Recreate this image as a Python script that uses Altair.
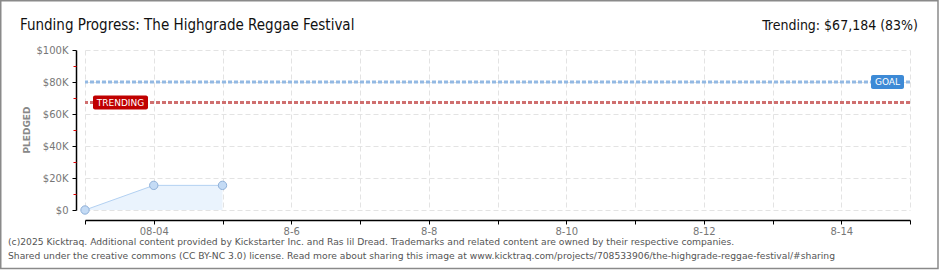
import altair as alt
import pandas as pd

# ---- data ----
dates = ["2025-08-03", "2025-08-04", "2025-08-05"]
pledged = [0, 15400, 15400]
goal = 80000
trending = 67184
y_ticks = [0, 20000, 40000, 60000, 80000, 100000]
y_minor = [10000, 30000, 50000, 70000, 90000]
x_days = list(range(3, 16))
title_text = "Funding Progress: The Highgrade Reggae Festival"
trend_text = "Trending: $67,184 (83%)"
footer_lines = [
    "(c)2025 Kicktraq. Additional content provided by Kickstarter Inc. and Ras lil Dread. Trademarks and related content are owned by their respective companies.",
    "Shared under the creative commons (CC BY-NC 3.0) license. Read more about sharing this image at www.kicktraq.com/projects/708533906/the-highgrade-reggae-festival/#sharing",
]
y_title = "PLEDGED"

W, H = 825, 160
PL, PT, PR, PB = 85, 50, 30, 60

df = pd.DataFrame({"date": dates, "pledged": pledged})
xvals = [int(pd.Timestamp(f"2025-08-{d:02d}", tz="UTC").value // 10**6) for d in x_days]

xscale = alt.Scale(type="utc", domain=[xvals[0], xvals[-1]])
yscale = alt.Scale(domain=[0, 100000], nice=False)

label_expr = ("utcdate(datum.value) == 4 ? '08-04' : "
              "((utcdate(datum.value) % 2 == 0 && utcdate(datum.value) > 4 && utcdate(datum.value) < 15) "
              "? '8-' + utcdate(datum.value) : '')")

xaxis = alt.Axis(values=xvals, labelExpr=label_expr, grid=True, gridColor="#e3e3e3",
                 gridDash=[5, 3], domainColor="#000", domainWidth=1.5, tickColor="#000",
                 tickSize=4, offset=10, labelColor="#777", labelFont="DejaVu Sans",
                 labelFontSize=10, labelPadding=2, labelFlush=False)
X = alt.X("date:T", scale=xscale, axis=xaxis, title=None)

yaxis = alt.Axis(values=y_ticks,
                 labelExpr="datum.value == 0 ? '$0' : '$' + datum.value/1000 + 'K'",
                 grid=True, gridColor="#e3e3e3", gridDash=[5, 3], domainColor="#000",
                 domainWidth=1.5, tickColor="#000", tickSize=4, offset=9,
                 labelColor="#777", labelFont="DejaVu Sans", labelFontSize=10, labelPadding=4)
yminor_axis = alt.Axis(values=y_minor, labels=False, domain=False, grid=False,
                       tickColor="#e00000", tickSize=3, offset=9, orient="left")

base = alt.Chart(df)
area = base.mark_area(color="#eaf3fd", opacity=1).encode(
    x=X, y=alt.Y("pledged:Q", scale=yscale, axis=yaxis, title=None))
minor = base.mark_point(opacity=0).encode(
    x=X, y=alt.Y("pledged:Q", scale=yscale, axis=yminor_axis, title=None))
line = base.mark_line(color="#b3d1f2", strokeWidth=1).encode(
    x=X, y=alt.Y("pledged:Q", scale=yscale, axis=None))
pts = base.mark_point(filled=True, fill="#c4dbf5", stroke="#8fb0d8", strokeWidth=1,
                      size=70, opacity=1).encode(
    x=X, y=alt.Y("pledged:Q", scale=yscale, axis=None))

goal_df = pd.DataFrame({"v": [goal]})
trend_df = pd.DataFrame({"v": [trending]})

goal_rule = alt.Chart(goal_df).mark_rule(color="#93b9e3", strokeWidth=3, strokeDash=[4, 2]).encode(
    y=alt.Y("v:Q", scale=yscale, axis=None))
trend_rule = alt.Chart(trend_df).mark_rule(color="#cf6f6f", strokeWidth=3, strokeDash=[4, 2]).encode(
    y=alt.Y("v:Q", scale=yscale, axis=None))

half = 4375  # 7 px in data units
goal_box = alt.Chart(goal_df).transform_calculate(
    top=f"datum.v + {half}", bot=f"datum.v - {half}").mark_rect(
    color="#3d8ad6", cornerRadius=2).encode(
    x=alt.value(786), x2=alt.value(819),
    y=alt.Y("top:Q", scale=yscale, axis=None), y2="bot:Q")
goal_txt = alt.Chart(goal_df).mark_text(color="white", font="DejaVu Sans", fontSize=9).encode(
    x=alt.value(802.5), y=alt.Y("v:Q", scale=yscale, axis=None), text=alt.value("GOAL"))
trend_box = alt.Chart(trend_df).transform_calculate(
    top=f"datum.v + {half}", bot=f"datum.v - {half}").mark_rect(
    color="#c00000", cornerRadius=2).encode(
    x=alt.value(8), x2=alt.value(63),
    y=alt.Y("top:Q", scale=yscale, axis=None), y2="bot:Q")
trend_txt = alt.Chart(trend_df).mark_text(color="white", font="DejaVu Sans", fontSize=9).encode(
    x=alt.value(35.5), y=alt.Y("v:Q", scale=yscale, axis=None), text=alt.value("TRENDING"))

one = pd.DataFrame({"a": [0]})
title = alt.Chart(one).mark_text(align="left", baseline="alphabetic", fontSize=15,
                                 font="DejaVu Sans Condensed",
                                 color="#111").encode(
    x=alt.value(20 - PL), y=alt.value(30 - PT), text=alt.value(title_text))
trend_label = alt.Chart(one).mark_text(align="right", baseline="alphabetic", fontSize=14,
                                       font="DejaVu Sans Condensed",
                                       color="#111").encode(
    x=alt.value(918 - PL), y=alt.value(30 - PT), text=alt.value(trend_text))
foot1 = alt.Chart(one).mark_text(align="left", baseline="middle", fontSize=9.2,
                                 font="DejaVu Sans", color="#555").encode(
    x=alt.value(8 - PL), y=alt.value(242 - PT), text=alt.value(footer_lines[0]))
foot2 = alt.Chart(one).mark_text(align="left", baseline="middle", fontSize=9.2,
                                 font="DejaVu Sans", color="#555").encode(
    x=alt.value(8 - PL), y=alt.value(255.5 - PT), text=alt.value(footer_lines[1]))
ytitle = alt.Chart(one).mark_text(angle=270, baseline="middle", fontSize=9, fontWeight="bold",
                                  font="DejaVu Sans", color="#888").encode(
    x=alt.value(27 - PL), y=alt.value(130 - PT), text=alt.value(y_title))
border = alt.Chart(one).mark_rect(fill="transparent", stroke="#8a8a8a", strokeWidth=1.5).encode(
    x=alt.value(0.75 - PL), x2=alt.value(938 - PL), y=alt.value(0.75 - PT), y2=alt.value(268.5 - PT))

chart = alt.layer(
    area, minor, line, pts, goal_rule, trend_rule, goal_box, goal_txt, trend_box, trend_txt,
    title, trend_label, foot1, foot2, ytitle, border
).resolve_axis(y="independent").resolve_scale(y="shared").properties(
    width=W, height=H,
    padding={"left": PL, "top": PT, "right": PR, "bottom": PB},
    autosize=alt.AutoSizeParams(type="none"),
    background="white",
).configure_view(stroke="transparent")

chart.save("out.html", embed_options={"renderer": "svg", "actions": False})
